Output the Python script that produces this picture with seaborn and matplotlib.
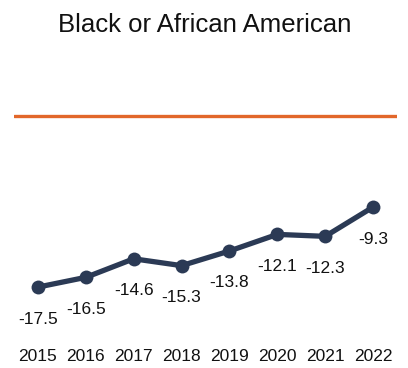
import pandas as pd
import seaborn as sns
import matplotlib.pyplot as plt

years = ['2015', '2016', '2017', '2018', '2019', '2020', '2021', '2022']
values = [-17.5, -16.5, -14.6, -15.3, -13.8, -12.1, -12.3, -9.3]
title = 'Black or African American'

navy = '#2b3a55'
orange = '#e2672a'

sns.set_style('white')
plt.rcParams['font.family'] = ['Liberation Sans', 'DejaVu Sans']

df = pd.DataFrame({'year': years, 'value': values})
df['pos'] = range(len(df))

fig = plt.figure(figsize=(4.08, 3.68), dpi=100)
ax = fig.add_axes([14 / 408, 1 - 330 / 368, 383 / 408, 230 / 368])

ax.axhline(0, color=orange, lw=2.4, zorder=1)
sns.lineplot(data=df, x='pos', y='value', ax=ax, color=navy, lw=3.8,
             marker='o', markersize=10, markeredgewidth=0, zorder=3)

for i, v in enumerate(values):
    ax.annotate(f'{v:.1f}', (i, v), xytext=(0, -23), textcoords='offset points',
                ha='center', va='center', fontsize=12.5, color='#111111')

ax.set_xlim(-0.5, 7.5)
ax.set_ylim(-(330 - 116.3) / 9.76, (116.3 - 100) / 9.76)
ax.set_xticks(df['pos'])
ax.set_xticklabels(years, fontsize=12.5, color='#111111')
ax.tick_params(axis='x', length=0, pad=13.5)
ax.set_yticks([])
ax.set_xlabel('')
ax.set_ylabel('')
sns.despine(ax=ax, left=True, bottom=True)

fig.text(0.502, 1 - 32 / 368, title, ha='center', va='baseline', fontsize=18.5, color='#111111')

fig.savefig('out.png', dpi=100)
